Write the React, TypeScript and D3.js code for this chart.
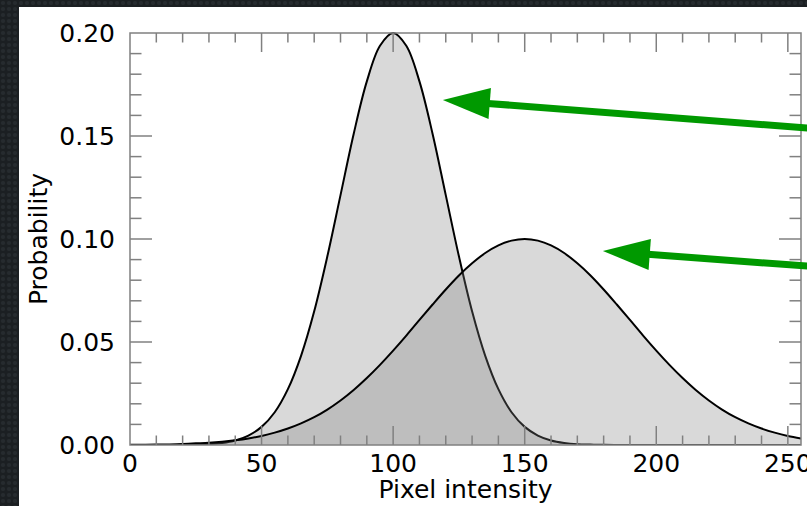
import React, { useRef, useEffect } from 'react';
import * as d3 from 'd3';

// pixel intensity samples, every 5 units
const intensity = d3.range(0, 256, 5);

// narrow distribution (peak near 100)
const probNarrow = [
  0.0000, 0.0000, 0.0000, 0.0000, 0.0001, 0.0002, 0.0004, 0.0010, 0.0022, 0.0046,
  0.0088, 0.0159, 0.0271, 0.0433, 0.0649, 0.0916, 0.1213, 0.1510, 0.1765, 0.1938,
  0.2000, 0.1938, 0.1765, 0.1510, 0.1213, 0.0916, 0.0649, 0.0433, 0.0271, 0.0159,
  0.0088, 0.0046, 0.0022, 0.0010, 0.0004, 0.0002, 0.0001, 0.0000, 0.0000, 0.0000,
  0.0000, 0.0000, 0.0000, 0.0000, 0.0000, 0.0000, 0.0000, 0.0000, 0.0000, 0.0000,
  0.0000, 0.0000,
];

// wide distribution (peak near 150)
const probWide = [
  0.0001, 0.0001, 0.0002, 0.0003, 0.0005, 0.0008, 0.0011, 0.0016, 0.0023, 0.0032,
  0.0044, 0.0060, 0.0080, 0.0105, 0.0135, 0.0172, 0.0216, 0.0267, 0.0325, 0.0389,
  0.0458, 0.0531, 0.0607, 0.0682, 0.0755, 0.0823, 0.0882, 0.0932, 0.0969, 0.0992,
  0.1000, 0.0992, 0.0969, 0.0932, 0.0882, 0.0823, 0.0755, 0.0682, 0.0607, 0.0531,
  0.0458, 0.0389, 0.0325, 0.0267, 0.0216, 0.0172, 0.0135, 0.0105, 0.0080, 0.0060,
  0.0044, 0.0032,
];

const xTicks = [0, 50, 100, 150, 200, 250];
const yTicks = [0, 0.05, 0.1, 0.15, 0.2];

// annotation arrows in data units: [tipX, tipY, tailX, tailY]
const arrows = [
  [118.9, 0.1675, 260, 0.1536],
  [179.7, 0.0942, 260, 0.0866],
];

const W = 807;
const H = 506;

const App = () => {
  const svgRef = useRef(null);

  useEffect(() => {
    document.body.style.margin = '0';
    draw();
  }, []);

  const draw = () => {
    const svg = d3.select(svgRef.current);
    svg.selectAll('*').remove();

    const left = 130, right = 801, top = 33, bottom = 445;
    const font = 'DejaVu Sans, sans-serif';

    const x = d3.scaleLinear().domain([0, 255]).range([left, right]);
    const y = d3.scaleLinear().domain([0, 0.2]).range([bottom, top]);

    // textured dark backdrop, white slide area
    const defs = svg.append('defs');
    const pat = defs.append('pattern')
      .attr('id', 'tex')
      .attr('width', 6).attr('height', 6)
      .attr('patternUnits', 'userSpaceOnUse');
    pat.append('rect').attr('width', 6).attr('height', 6).attr('fill', '#1b1f22');
    pat.append('circle').attr('cx', 3).attr('cy', 3).attr('r', 2.1).attr('fill', '#262b2f');
    svg.append('rect').attr('width', W).attr('height', H).attr('fill', 'url(#tex)');
    svg.append('rect').attr('x', 19).attr('y', 7).attr('width', W - 19).attr('height', H - 7).attr('fill', '#fff');

    defs.append('clipPath').attr('id', 'plot')
      .append('rect').attr('x', left).attr('y', top - 2).attr('width', right - left).attr('height', bottom - top + 2);

    const area = d3.area()
      .x((d, i) => x(intensity[i]))
      .y0(y(0))
      .y1(d => y(d))
      .curve(d3.curveCatmullRom);
    const line = d3.line()
      .x((d, i) => x(intensity[i]))
      .y(d => y(d))
      .curve(d3.curveCatmullRom);

    const g = svg.append('g').attr('clip-path', 'url(#plot)');
    [probNarrow, probWide].forEach(s => {
      g.append('path').attr('d', area(s)).attr('fill', '#808080').attr('fill-opacity', 0.3);
      g.append('path').attr('d', line(s)).attr('fill', 'none').attr('stroke', '#000').attr('stroke-width', 2);
    });

    // frame and inward ticks on all four sides
    const axisCol = '#808080';
    const ax = svg.append('g').attr('stroke', axisCol).attr('stroke-width', 1.5);
    ax.append('rect')
      .attr('x', left).attr('y', top).attr('width', right - left).attr('height', bottom - top)
      .attr('fill', 'none');

    d3.range(10, 256, 10).forEach(v => {
      const len = v % 50 === 0 ? 19 : 9.5;
      ax.append('line').attr('x1', x(v)).attr('x2', x(v)).attr('y1', bottom).attr('y2', bottom - len);
      ax.append('line').attr('x1', x(v)).attr('x2', x(v)).attr('y1', top).attr('y2', top + len);
    });
    d3.range(1, 20).forEach(k => {
      const v = k / 100;
      const len = k % 5 === 0 ? 22 : 11.5;
      ax.append('line').attr('x1', left).attr('x2', left + len).attr('y1', y(v)).attr('y2', y(v));
      ax.append('line').attr('x1', right).attr('x2', right - len).attr('y1', y(v)).attr('y2', y(v));
    });

    svg.append('g').selectAll('text')
      .data(yTicks)
      .enter().append('text')
      .attr('x', left - 15)
      .attr('y', d => y(d))
      .attr('dy', '0.36em')
      .attr('text-anchor', 'end')
      .style('font-family', font)
      .style('font-size', '25px')
      .text(d => d3.format('.2f')(d));

    svg.append('g').selectAll('text')
      .data(xTicks)
      .enter().append('text')
      .attr('x', d => x(d))
      .attr('y', 472)
      .attr('text-anchor', 'middle')
      .style('font-family', font)
      .style('font-size', '25px')
      .text(d => d);

    svg.append('text')
      .attr('x', (left + right) / 2)
      .attr('y', 498)
      .attr('text-anchor', 'middle')
      .style('font-family', font)
      .style('font-size', '25px')
      .text('Pixel intensity');

    svg.append('text')
      .attr('transform', `translate(47,${(top + bottom) / 2}) rotate(-90)`)
      .attr('text-anchor', 'middle')
      .style('font-family', font)
      .style('font-size', '25px')
      .text('Probability');

    // green arrows
    const green = '#009900';
    const headLen = 47, headHalf = 15.5;
    arrows.forEach(([tx, ty, sx, sy]) => {
      const px = x(tx), py = y(ty), qx = x(sx), qy = y(sy);
      const dx = qx - px, dy = qy - py;
      const n = Math.hypot(dx, dy);
      const ux = dx / n, uy = dy / n;
      const bx = px + ux * headLen, by = py + uy * headLen;
      svg.append('line')
        .attr('x1', bx - ux * 2).attr('y1', by - uy * 2)
        .attr('x2', qx).attr('y2', qy)
        .attr('stroke', green).attr('stroke-width', 7);
      svg.append('polygon')
        .attr('points', [
          [px, py],
          [bx - uy * headHalf, by + ux * headHalf],
          [bx + uy * headHalf, by - ux * headHalf],
        ].map(p => p.join(',')).join(' '))
        .attr('fill', green);
    });
  };

  return (
    <svg ref={svgRef} width={W} height={H} style={{ position: 'absolute', left: 0, top: 0 }}></svg>
  );
};

export default App;
